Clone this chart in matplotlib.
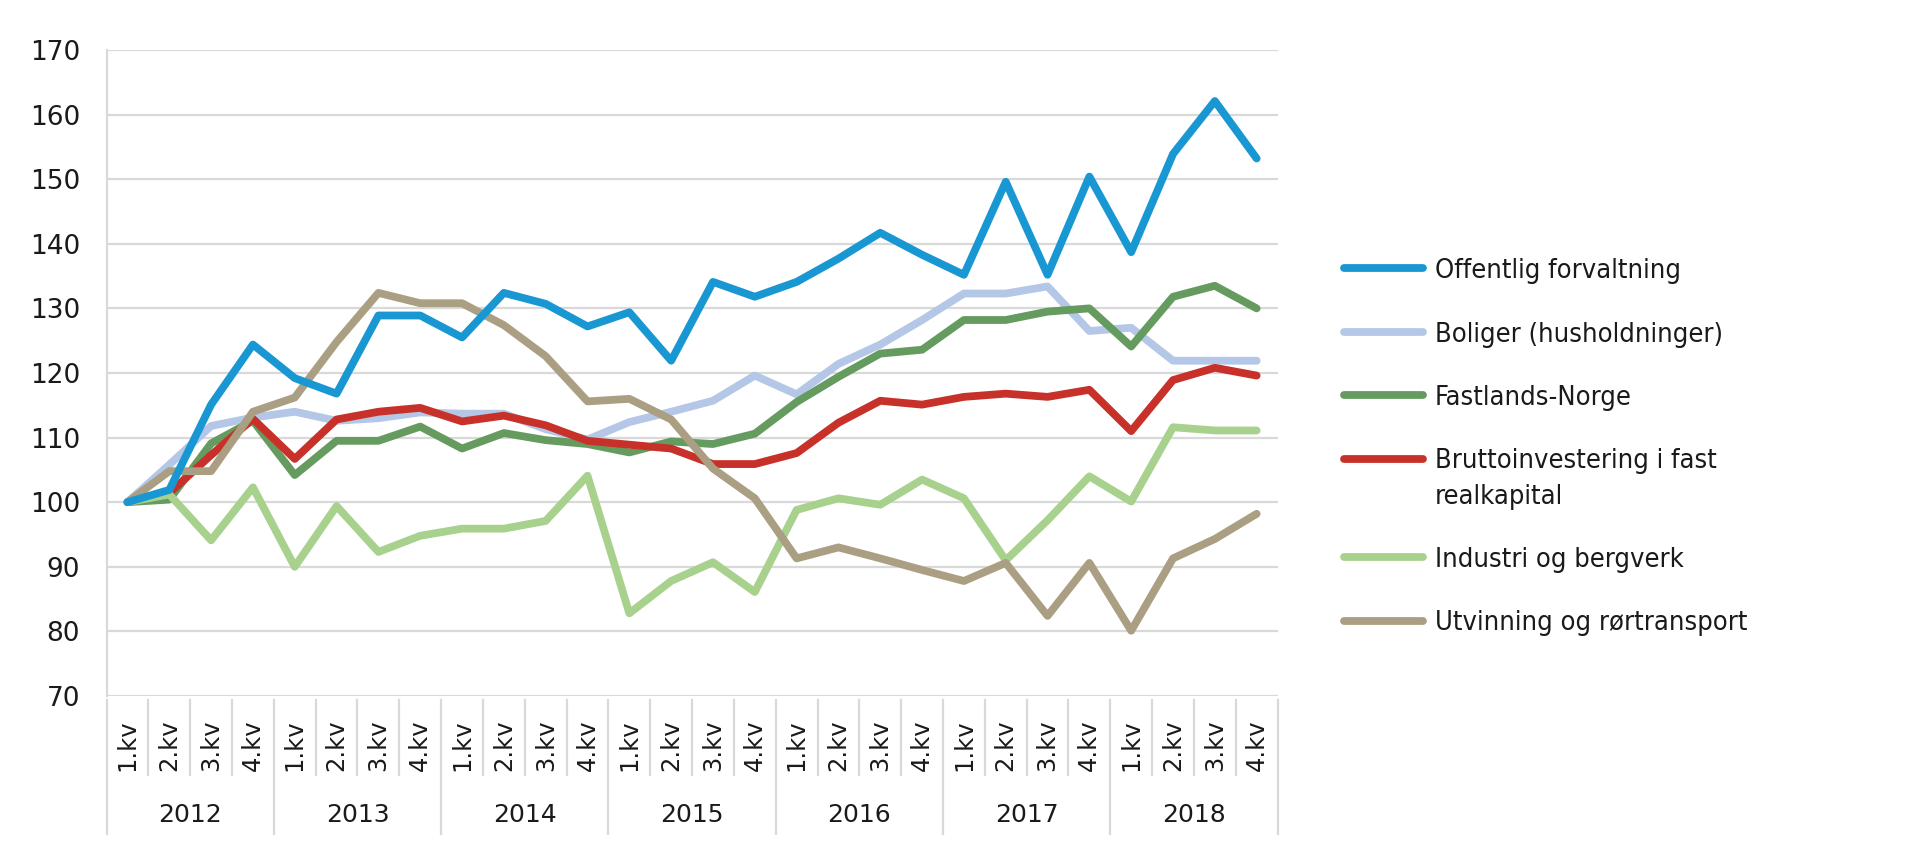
import numpy as np
import matplotlib.pyplot as plt
from matplotlib.lines import Line2D
from matplotlib.transforms import blended_transform_factory

# ─── Data: indeks, 1.kv 2012 = 100 ───────────────────────────────────────────
years = ['2012', '2013', '2014', '2015', '2016', '2017', '2018']
quarters = ['1.kv', '2.kv', '3.kv', '4.kv']

offentlig = [100, 101.9, 115.1, 124.4, 119.2, 116.8, 128.9, 128.9, 125.5, 132.4,
             130.7, 127.2, 129.4, 121.9, 134.1, 131.8, 134.1, 137.7, 141.7, 138.3,
             135.2, 149.6, 135.2, 150.4, 138.7, 153.9, 162.1, 153.2]
boliger = [100, 105.8, 111.8, 113.1, 114.0, 112.6, 113.0, 113.9, 113.7, 113.7,
           111.3, 109.7, 112.4, 114.0, 115.7, 119.6, 116.7, 121.4, 124.4, 128.2,
           132.3, 132.3, 133.4, 126.5, 127.0, 121.9, 121.9, 121.9]
fastlands = [100, 100.4, 109.1, 112.6, 104.2, 109.5, 109.5, 111.7, 108.3, 110.7,
             109.6, 109.0, 107.7, 109.4, 109.0, 110.6, 115.5, 119.4, 123.0, 123.6,
             128.2, 128.2, 129.5, 130.0, 124.1, 131.8, 133.5, 130.0]
brutto = [100, 101.4, 107.3, 112.9, 106.7, 112.8, 114.0, 114.6, 112.5, 113.4,
          111.9, 109.5, 108.9, 108.3, 105.9, 105.9, 107.6, 112.3, 115.7, 115.1,
          116.3, 116.8, 116.3, 117.4, 111.0, 118.9, 120.8, 119.6]
industri = [100, 101.2, 94.1, 102.3, 90.0, 99.4, 92.3, 94.8, 95.9, 95.9,
            97.1, 104.1, 82.8, 87.8, 90.7, 86.1, 98.8, 100.6, 99.6, 103.5,
            100.6, 91.0, 97.2, 104.0, 100.1, 111.6, 111.1, 111.1]
utvinning = [100, 104.8, 104.8, 114.0, 116.2, 124.8, 132.4, 130.8, 130.8, 127.4,
             122.6, 115.6, 116.0, 112.8, 105.2, 100.6, 91.3, 93.0, 91.3, 89.5,
             87.8, 90.6, 82.4, 90.6, 80.1, 91.3, 94.3, 98.2]

labels = ['Offentlig forvaltning', 'Boliger (husholdninger)', 'Fastlands-Norge',
          'Bruttoinvestering i fast\nrealkapital', 'Industri og bergverk',
          'Utvinning og rørtransport']
colors = ['#1897D3', '#B4C7E7', '#659B5E', '#C7312A', '#A9D18E', '#AA9F82']
series = [offentlig, boliger, fastlands, brutto, industri, utvinning]
zorders = [8, 3, 4, 5, 6, 7]

n = len(years) * len(quarters)
x = np.arange(n)

W, H = 1920, 850
fig = plt.figure(figsize=(W / 100, H / 100), dpi=100)
ax = fig.add_axes([0.0555, 0.1812, 0.6099, 0.76])

grid_c = '#D9D9D9'
txt_c = '#1a1a1a'
for s, c, lab, z in zip(series, colors, labels, zorders):
    ax.plot(x, s, color=c, lw=5.6, label=lab, zorder=z,
            solid_joinstyle='round', solid_capstyle='round')

ax.set_xlim(-0.5, n - 0.5)
ax.set_ylim(70, 170)
ax.set_yticks(np.arange(70, 171, 10))
ax.yaxis.grid(True, color=grid_c, lw=1.6)
ax.set_axisbelow(True)
ax.tick_params(axis='y', length=0, pad=19, labelsize=19, labelcolor=txt_c)
ax.tick_params(axis='x', length=0, labelbottom=False)
for sp in ['top', 'right', 'bottom']:
    ax.spines[sp].set_visible(False)
ax.spines['left'].set_color(grid_c)
ax.spines['left'].set_linewidth(1.6)

# ─── Kategoriakse med kvartaler og år ────────────────────────────────────────
tr = blended_transform_factory(ax.transData, ax.transAxes)
for i in range(n):
    ax.text(x[i], -0.076, quarters[i % 4], transform=tr, rotation=90,
            ha='center', va='center', fontsize=17.5, color=txt_c)
for i in range(n + 1):
    bottom = -0.2136 if i % 4 == 0 else -0.122
    ax.plot([i - 0.5, i - 0.5], [-0.006, bottom], transform=tr, color=grid_c,
            lw=1.6, clip_on=False)
for k, yr in enumerate(years):
    ax.text(4 * k + 1.5, -0.184, yr, transform=tr, ha='center', va='center',
            fontsize=18, color=txt_c)

# ─── Legende (Excel-stil: strek på høyde med første tekstlinje) ─────────────
row_y = 268          # første rad, piksler fra toppen
row_step = 63.5
line_step = 35
for lab, c in zip(labels, colors):
    yf = 1 - row_y / H
    fig.add_artist(Line2D([1344 / W, 1423 / W], [yf, yf], color=c, lw=5.6,
                          solid_capstyle='round', transform=fig.transFigure))
    lines = lab.split('\n')
    for j, ln in enumerate(lines):
        fig.text(1435 / W, 1 - (row_y + j * line_step) / H, ln,
                 ha='left', va='center_baseline', fontsize=19.5,
                 fontstretch='condensed', color=txt_c)
    row_y += row_step + (len(lines) - 1) * line_step

plt.savefig('out.png', dpi=100)
